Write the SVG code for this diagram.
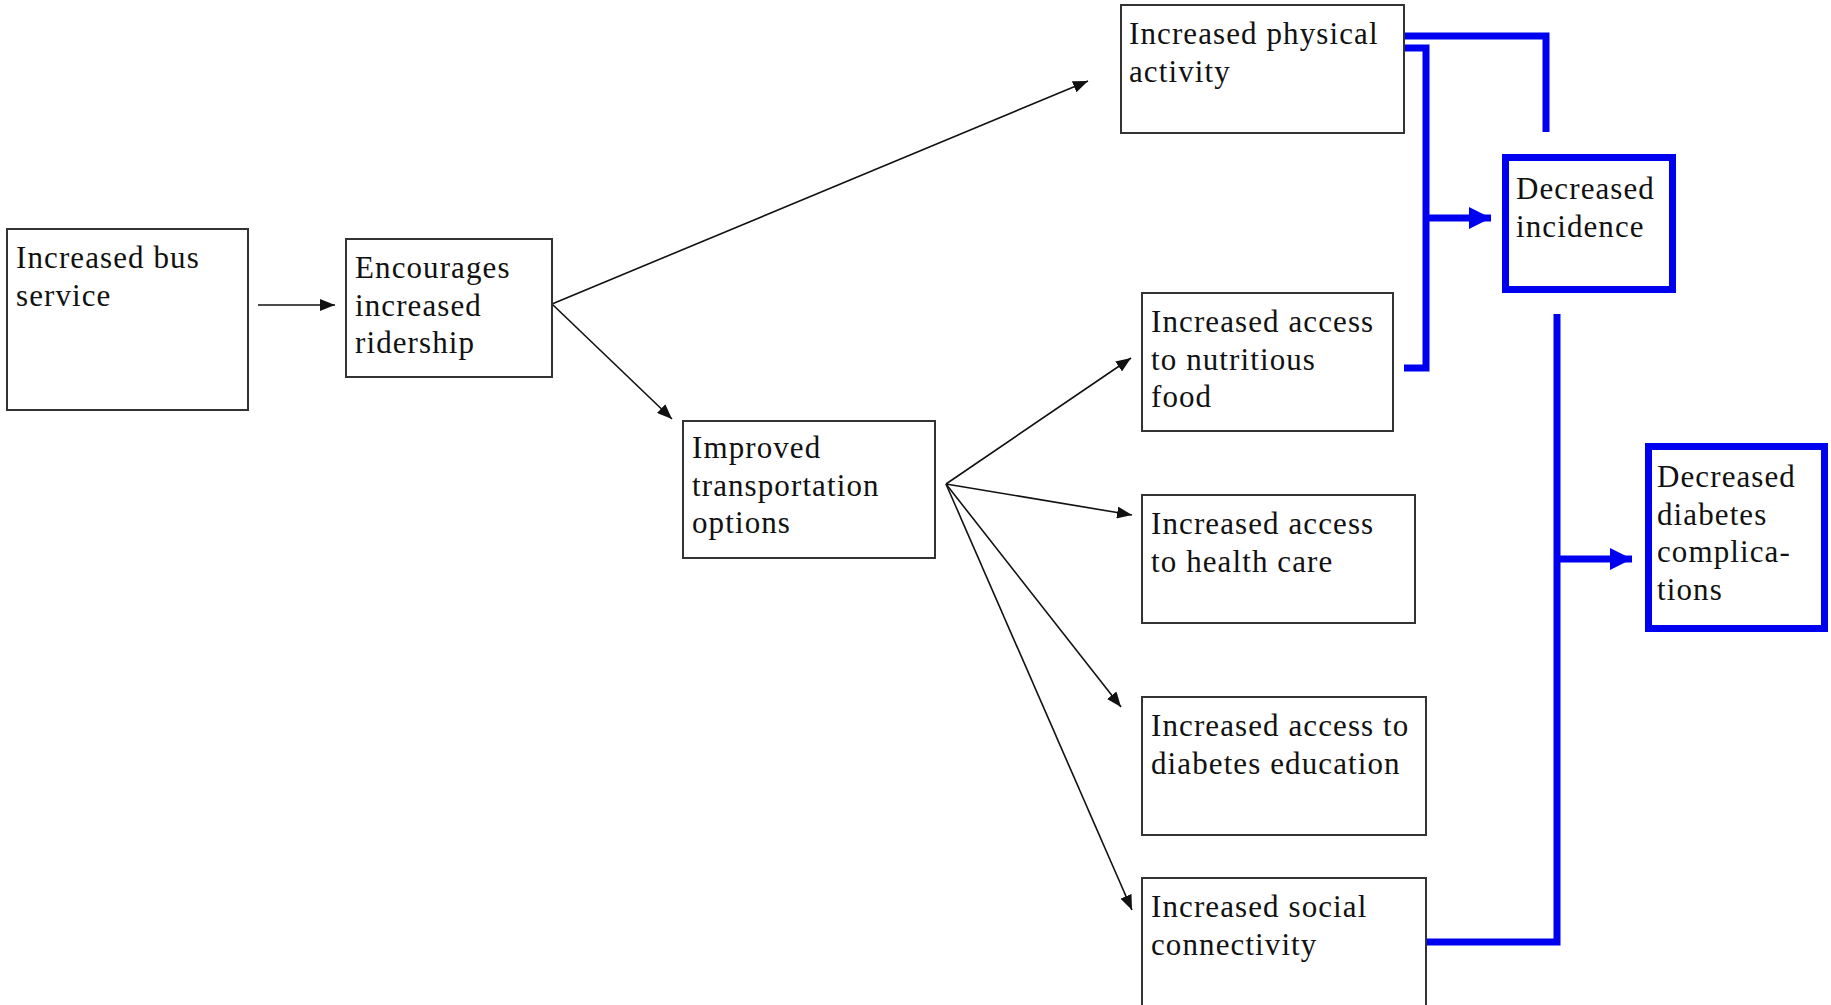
<svg xmlns="http://www.w3.org/2000/svg" width="1831" height="1005" viewBox="0 0 1831 1005">
<defs>
<style>
.box{fill:#fff;stroke:#333;stroke-width:2}
.bbox{fill:#fff;stroke:#0000f0;stroke-width:7}
.t{font-family:"Liberation Serif","Times New Roman",serif;font-size:31px;letter-spacing:1.1px;fill:#111}
.arr{stroke:#111;stroke-width:1.6;fill:none;marker-end:url(#ah)}
.blue{stroke:#0000f0;stroke-width:7;fill:none;stroke-linejoin:miter}
.barr{stroke:#0000f0;stroke-width:7;fill:none;marker-end:url(#bh)}
</style>
<marker id="ah" markerUnits="userSpaceOnUse" markerWidth="16" markerHeight="12" refX="15" refY="6" orient="auto">
<path d="M0,0 L15,6 L0,12 z" fill="#111"/>
</marker>
<marker id="bh" markerUnits="userSpaceOnUse" markerWidth="24" markerHeight="24" refX="22" refY="11" orient="auto">
<path d="M0,0 L22,11 L0,22 z" fill="#0000f0"/>
</marker>
</defs>
<rect width="1831" height="1005" fill="#fff"/>

<g id="connectors">
<line class="arr" x1="258" y1="305" x2="335" y2="305"/>
<line class="arr" x1="552" y1="304" x2="1088" y2="81"/>
<line class="arr" x1="552" y1="304" x2="672" y2="419"/>
<line class="arr" x1="946" y1="484" x2="1131" y2="358"/>
<line class="arr" x1="946" y1="484" x2="1132" y2="515"/>
<line class="arr" x1="946" y1="484" x2="1121" y2="707"/>
<line class="arr" x1="946" y1="484" x2="1132" y2="910"/>
<path class="blue" d="M1404,36 H1546 V132"/>
<path class="blue" d="M1404,48 H1426 V368 H1404"/>
<line class="barr" x1="1426" y1="218" x2="1491" y2="218"/>
<path class="blue" d="M1426,942 H1557 V314"/>
<line class="barr" x1="1557" y1="559" x2="1632" y2="559"/>
</g>

<g id="n1">
<rect class="box" x="7" y="229" width="241" height="181"/>
<text class="t" x="16" y="268">Increased bus</text>
<text class="t" x="16" y="305.5">service</text>
</g>
<g id="n2">
<rect class="box" x="346" y="239" width="206" height="138"/>
<text class="t" x="355" y="278">Encourages</text>
<text class="t" x="355" y="315.5">increased</text>
<text class="t" x="355" y="353">ridership</text>
</g>
<g id="n3">
<rect class="box" x="683" y="421" width="252" height="137"/>
<text class="t" x="692" y="458">Improved</text>
<text class="t" x="692" y="495.5">transportation</text>
<text class="t" x="692" y="533">options</text>
</g>
<g id="n4">
<rect class="box" x="1121" y="5" width="283" height="128"/>
<text class="t" x="1129" y="44">Increased physical</text>
<text class="t" x="1129" y="81.5">activity</text>
</g>
<g id="n5">
<rect class="box" x="1142" y="293" width="251" height="138"/>
<text class="t" x="1151" y="332">Increased access</text>
<text class="t" x="1151" y="369.5">to nutritious</text>
<text class="t" x="1151" y="407">food</text>
</g>
<g id="n6">
<rect class="box" x="1142" y="495" width="273" height="128"/>
<text class="t" x="1151" y="534">Increased access</text>
<text class="t" x="1151" y="571.5">to health care</text>
</g>
<g id="n7">
<rect class="box" x="1142" y="697" width="284" height="138"/>
<text class="t" x="1151" y="736">Increased access to</text>
<text class="t" x="1151" y="773.5">diabetes education</text>
</g>
<g id="n8">
<rect class="box" x="1142" y="878" width="284" height="140"/>
<text class="t" x="1151" y="917">Increased social</text>
<text class="t" x="1151" y="954.5">connectivity</text>
</g>
<g id="n9">
<rect class="bbox" x="1505.5" y="157.5" width="167" height="132"/>
<text class="t" x="1516" y="199">Decreased</text>
<text class="t" x="1516" y="236.5">incidence</text>
</g>
<g id="n10">
<rect class="bbox" x="1648.5" y="446.5" width="176" height="182"/>
<text class="t" x="1657" y="487">Decreased</text>
<text class="t" x="1657" y="524.5">diabetes</text>
<text class="t" x="1657" y="562">complica-</text>
<text class="t" x="1657" y="599.5">tions</text>
</g>
</svg>
